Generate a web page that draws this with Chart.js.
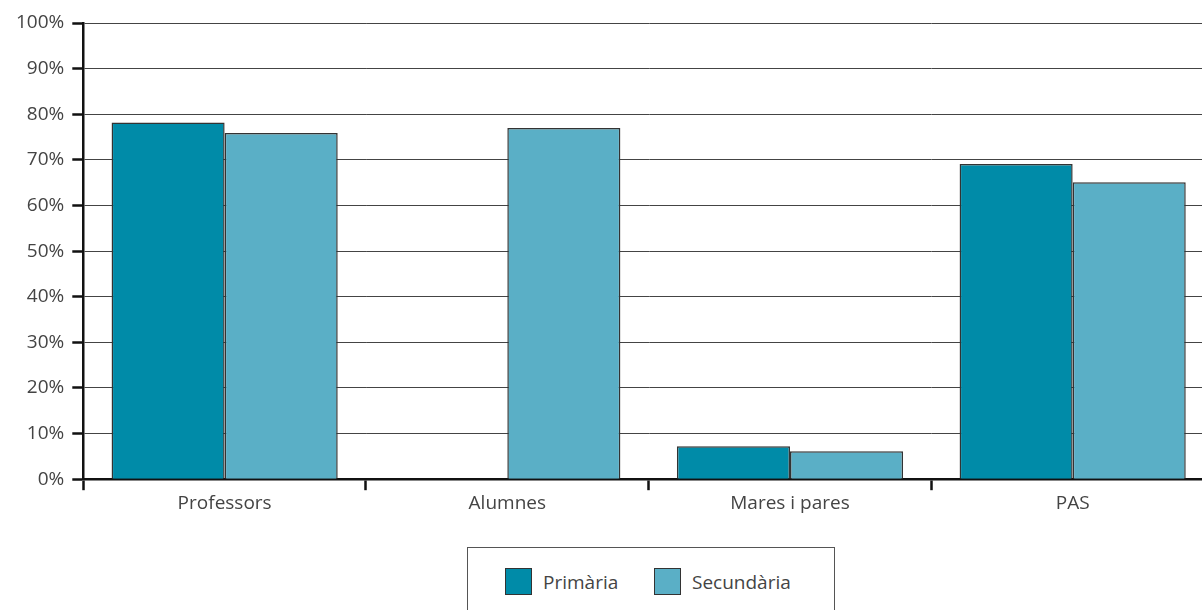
<!DOCTYPE html>
<html lang="ca">
<head>
    <meta charset="UTF-8">
    <title>Chart</title>
    <style>
        body {
            margin: 0;
            padding: 0;
            background: #ffffff;
            overflow: hidden;
            font-family: 'Open Sans', Arial, sans-serif;
        }
        #wrap {
            position: relative;
            width: 1216px;
            height: 517px;
        }
        #legend {
            position: absolute;
            left: 467px;
            top: 547px;
            width: 368px;
            height: 80px;
            border: 1px solid #555;
            box-sizing: border-box;
        }
        .item {
            position: absolute;
            top: 20px;
            display: flex;
            align-items: center;
            font-size: 19px;
            color: #444;
        }
        .sw {
            width: 27px;
            height: 27px;
            border: 1.5px solid #333;
            margin-right: 11px;
            box-sizing: border-box;
        }
    </style>
</head>
<body>
    <div id="wrap"><canvas id="chart"></canvas></div>
    <div id="legend"></div>
    <script src="https://cdn.jsdelivr.net/npm/chart.js@4/dist/chart.umd.min.js"></script>
    <script>
        // data
        const categories = ["Professors", "Alumnes", "Mares i pares", "PAS"];
        const primaria = [78.2, 0, 7.2, 69.1];
        const secundaria = [75.9, 77, 6.1, 65.1];
        const seriesNames = ["Primària", "Secundària"];
        const seriesColors = ["#008ba8", "#5aafc6"];

        const tickFont = { family: "'Open Sans', Arial, sans-serif", size: 19 };

        // simple html legend with a frame round it
        const legend = document.getElementById("legend");
        const legendX = [37, 186];
        seriesNames.forEach((name, i) => {
            const item = document.createElement("div");
            item.className = "item";
            item.style.left = legendX[i] + "px";
            item.innerHTML = '<div class="sw" style="background:' + seriesColors[i] + '"></div>' + name;
            legend.appendChild(item);
        });

        const ctx = document.getElementById("chart").getContext("2d");
        new Chart(ctx, {
            type: 'bar',
            data: {
                labels: categories,
                datasets: [{
                    label: seriesNames[0],
                    data: primaria,
                    backgroundColor: seriesColors[0],
                    borderColor: '#333',
                    borderWidth: 1.5,
                    borderSkipped: 'bottom'
                }, {
                    label: seriesNames[1],
                    data: secundaria,
                    backgroundColor: seriesColors[1],
                    borderColor: '#333',
                    borderWidth: 1.5,
                    borderSkipped: 'bottom'
                }]
            },
            options: {
                responsive: true,
                maintainAspectRatio: false,
                animation: false,
                datasets: {
                    bar: { categoryPercentage: 0.8, barPercentage: 1.0 }
                },
                layout: { padding: { top: 23, right: 2, left: 8, bottom: 0 } },
                plugins: {
                    legend: { display: false },
                    tooltip: { enabled: false }
                },
                scales: {
                    x: {
                        grid: {
                            offset: true,
                            drawOnChartArea: false,
                            tickLength: 11,
                            tickWidth: 2.5,
                            tickColor: '#111'
                        },
                        border: { color: '#111', width: 2.5 },
                        ticks: { color: '#444', font: tickFont, padding: 2 }
                    },
                    y: {
                        min: 0,
                        max: 100,
                        grid: {
                            color: '#444',
                            lineWidth: 1,
                            tickLength: 11,
                            tickWidth: 2.5,
                            tickColor: '#111'
                        },
                        border: { color: '#111', width: 2.5 },
                        ticks: {
                            stepSize: 10,
                            color: '#444',
                            font: tickFont,
                            padding: 8,
                            callback: v => v + '%'
                        }
                    }
                }
            }
        });
    </script>
</body>
</html>
